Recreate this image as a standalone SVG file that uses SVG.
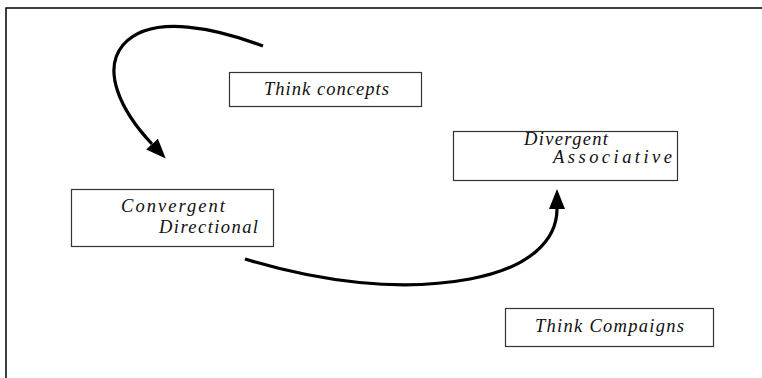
<svg xmlns="http://www.w3.org/2000/svg" width="762" height="378" viewBox="0 0 762 378">
<style>
.box{fill:#fff;stroke:#333;stroke-width:1.2}
.t{font-family:"Liberation Serif","Times New Roman",serif;font-style:italic;font-size:18.5px;fill:#111}
.conn{fill:none;stroke:#000;stroke-width:3.2;stroke-linecap:butt}
</style>
<defs>
<marker id="ah" markerUnits="userSpaceOnUse" markerWidth="22" markerHeight="18" refX="0" refY="8" orient="auto">
<path d="M0,0 L20,8 L0,16 z" fill="#000"/>
</marker>
</defs>
<rect width="762" height="378" fill="#fff"/>
<path d="M6,378 L6,8 L762,8" fill="none" stroke="#000" stroke-width="1.5"/>
<g id="connectors">
<path class="conn" marker-end="url(#ah)" d="M263,46 C220,30 152,12 123,45 C102,70 120,110 152,144"/>
<path class="conn" marker-end="url(#ah)" d="M245,259 C320,282 400,292 470,279 C530,268 557,240 557,209"/>
</g>
<g id="think-concepts">
<rect class="box" x="229.5" y="72.5" width="192" height="34"/>
<text class="t" x="264" y="95" textLength="125" lengthAdjust="spacing">Think concepts</text>
</g>
<g id="convergent">
<rect class="box" x="71.5" y="189.5" width="202" height="57"/>
<text class="t" x="121" y="212" textLength="104" lengthAdjust="spacing">Convergent</text>
<text class="t" x="159" y="233" textLength="99" lengthAdjust="spacing">Directional</text>
</g>
<g id="divergent">
<rect class="box" x="453.5" y="131.5" width="224" height="49"/>
<text class="t" x="524" y="145" textLength="84" lengthAdjust="spacing">Divergent</text>
<text class="t" x="553" y="163" textLength="119" lengthAdjust="spacing">Associative</text>
</g>
<g id="think-compaigns">
<rect class="box" x="505.5" y="308.5" width="208" height="38"/>
<text class="t" x="535" y="332" textLength="149" lengthAdjust="spacing">Think Compaigns</text>
</g>
</svg>
